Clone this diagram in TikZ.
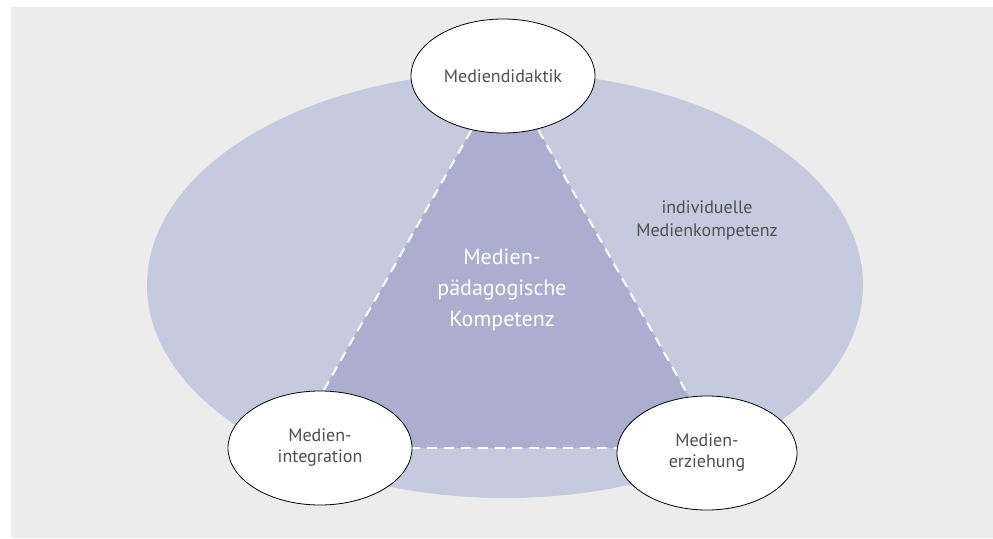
\documentclass[tikz,border=0pt]{standalone}
\usepackage{fontspec}
\setmainfont{PT Sans}
\usetikzlibrary{shapes.geometric}
\pgfdeclarelayer{filllayer}
\pgfdeclarelayer{edgelayer}
\pgfdeclarelayer{nodelayer}
\pgfsetlayers{filllayer,edgelayer,nodelayer,main}
\definecolor{paper}{HTML}{ECECEC}
\definecolor{outer}{HTML}{C6CADF}
\definecolor{inner}{HTML}{ABAECF}
\definecolor{ink}{HTML}{4F4F4F}
\tikzset{font=\fontsize{18}{21}\selectfont}
\tikzstyle{none}=[inner sep=0pt]
\tikzstyle{oval}=[ellipse,draw=black,line width=0.8pt,fill=white,text=ink,align=center,minimum width=184pt,minimum height=114pt,inner sep=0pt]
\tikzstyle{bigoval}=[ellipse,fill=outer,minimum width=716pt,minimum height=426pt,inner sep=0pt]
\tikzstyle{edge}=[draw=white,line width=2pt,dash pattern=on 10pt off 7pt]

\begin{document}
\begin{tikzpicture}[x=1pt,y=-1pt]
	\useasboundingbox (0,0) rectangle (993,538);
	\begin{pgfonlayer}{filllayer}
		\fill[paper] (11,7) rectangle (993,538);
		\node [style=bigoval] (big) at (505,285) {};
		\coordinate (t) at (505,71);
		\coordinate (l) at (291,448);
		\coordinate (r) at (718,448);
		\fill[inner] (t) -- (l) -- (r) -- cycle;
	\end{pgfonlayer}
	\begin{pgfonlayer}{nodelayer}
		\node [style=oval] (0) at (503,76) {Mediendidaktik};
		\node [style=oval] (1) at (320,448) {Medien-\\integration};
		\node [style=oval, minimum width=180pt] (2) at (707,453) {Medien-\\erziehung};
		\node [style=none, text=ink, align=center, font=\fontsize{18}{23}\selectfont] (3) at (707,220) {individuelle\\Medienkompetenz};
		\node [style=none, text=white, align=center, font=\fontsize{22}{31}\selectfont] (4) at (502,290) {Medien-\\pädagogische\\Kompetenz};
	\end{pgfonlayer}
	\begin{pgfonlayer}{edgelayer}
		\draw[style=edge] (t) to (l);
		\draw[style=edge] (t) to (r);
		\draw[style=edge] (l) to (r);
	\end{pgfonlayer}
\end{tikzpicture}
\end{document}
